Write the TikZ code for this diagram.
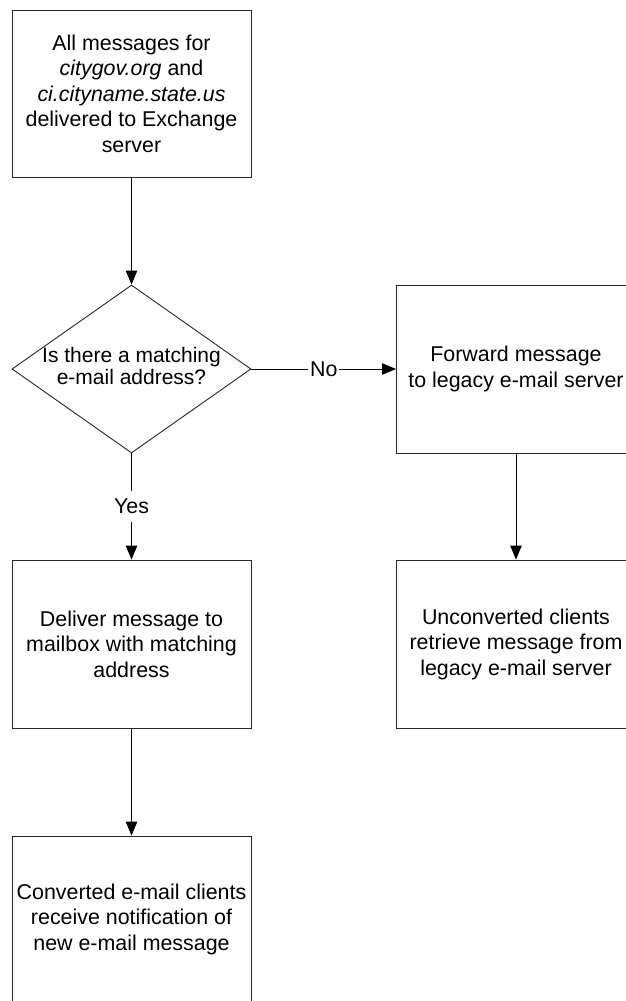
\documentclass[tikz,border=0pt]{standalone}
\usepackage{fontspec}
\setmainfont{Liberation Sans}
\usetikzlibrary{shapes.geometric,arrows.meta}
\begin{document}
\begin{tikzpicture}[x=1pt,y=-1pt,
  every node/.style={font=\fontsize{21.4}{25.5}\selectfont, align=center},
  box/.style={draw=black!85, line width=0.9pt, rectangle, minimum width=239pt, minimum height=167pt, inner sep=0pt},
  decision/.style={draw=black!85, line width=0.9pt, diamond, minimum width=239pt, minimum height=168pt, inner sep=0pt},
  qtext/.style={font=\fontsize{21}{22}\selectfont, inner sep=0pt},
  flow/.style={line width=0.9pt, -{Triangle[length=14pt,width=11.5pt]}},
  tag/.style={fill=white, inner xsep=2pt, inner ysep=8pt}]
  \useasboundingbox (0,0) rectangle (626,1001);
  \node[box] (start) at (131.5,93.5) {All messages for\\\textit{citygov.org} and\\\textit{ci.cityname.state.us}\\delivered to Exchange\\server};
  % decision outline and its question
  \node[decision] (match) at (131.5,369) {};
  \node[qtext] (question) at (131.5,366) {Is there a matching\\e-mail address?};
  \node[box, minimum height=168pt] (fwd) at (516,369) {Forward message\\to legacy e-mail server};
  \node[box, minimum height=168pt] (deliver) at (131.5,644) {Deliver message to\\mailbox with matching\\address};
  \node[box, minimum height=168pt] (legacy) at (516,644) {Unconverted clients\\retrieve message from\\legacy e-mail server};
  \node[box, minimum height=166pt] (notify) at (131.5,919) {Converted e-mail clients\\receive notification of\\new e-mail message};
  \draw[flow] (start.south) -- (match.north);
  \draw[flow] (match.east) -- node[tag] {No} (fwd.west);
  \draw[flow] (match.south) -- node[tag] {Yes} (deliver.north);
  \draw[flow] (fwd.south) -- (legacy.north);
  \draw[flow] (deliver.south) -- (notify.north);
\end{tikzpicture}
\end{document}
